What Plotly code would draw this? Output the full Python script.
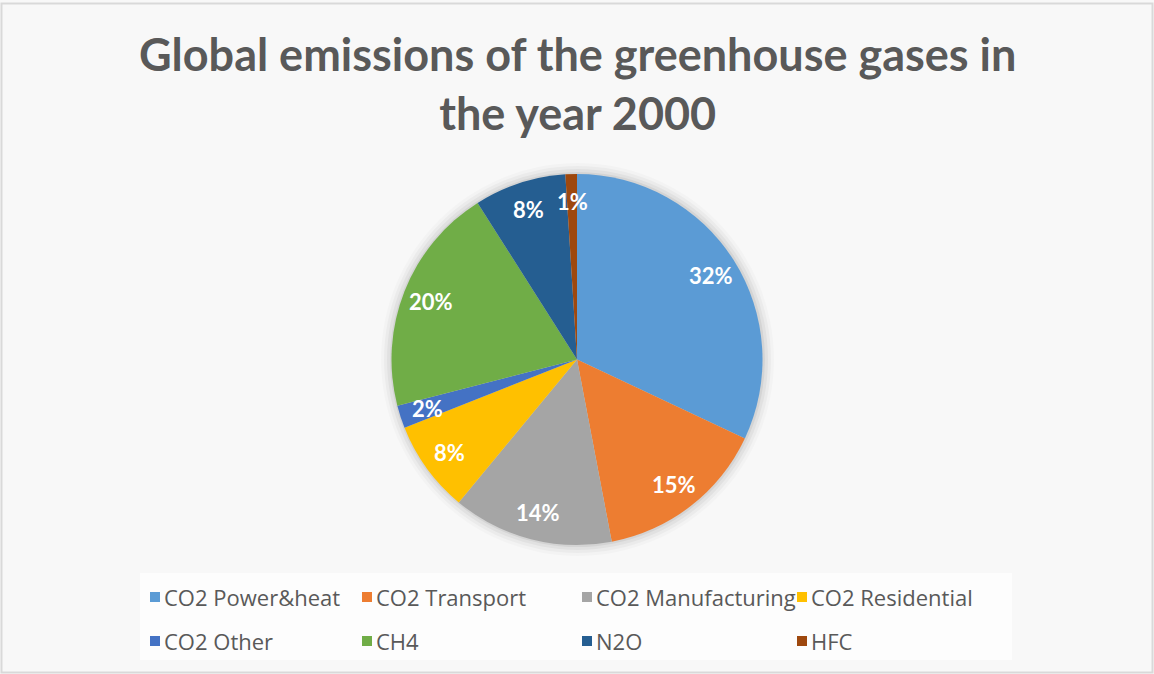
import math
import plotly.graph_objects as go

# Share of global greenhouse-gas emissions, year 2000 (percent)
sources = ["CO2 Power&heat", "CO2 Transport", "CO2 Manufacturing", "CO2 Residential",
           "CO2 Other", "CH4", "N2O", "HFC"]
shares = [32, 15, 14, 8, 2, 20, 8, 1]
colors = ["#5B9BD5", "#ED7D31", "#A5A5A5", "#FFC000",
          "#4472C4", "#70AD47", "#255E91", "#9E480E"]

title_text = "Global emissions of the greenhouse gases in<br>the year 2000"

W, H = 1154, 674
cx, cy, r = 577.5, 359.5, 185.5
pie_domain = dict(x=[0, 1], y=[(H - cy - r) / H, (H - cy + r) / H])

fig = go.Figure()
fig.add_trace(go.Pie(
    labels=sources, values=shares, sort=False,
    direction="clockwise", rotation=0,
    marker=dict(colors=colors, line=dict(width=0)),
    textinfo="none",
    hoverinfo="label+percent",
    domain=pie_domain,
    showlegend=False,
))

shapes = []
# soft shadow around the pie
for i, op in enumerate([0.05, 0.04, 0.03, 0.02]):
    d = 2 + i * 3
    shapes.append(dict(
        type="circle", xref="paper", yref="paper", layer="below",
        x0=(cx - r - d) / W, x1=(cx + r + d) / W,
        y0=(H - cy - r - d) / H, y1=(H - cy + r + d) / H,
        fillcolor=f"rgba(0,0,0,{op})", line=dict(width=0),
    ))
# legend panel
shapes.append(dict(
    type="rect", xref="paper", yref="paper", layer="below",
    x0=140 / W, x1=1012 / W, y0=1 - 660 / H, y1=1 - 573 / H,
    fillcolor="#FDFDFD", line=dict(width=0),
))
# chart frame
shapes.append(dict(
    type="rect", xref="paper", yref="paper",
    x0=1.5 / W, x1=(W - 1.5) / W, y0=1.5 / H, y1=(H - 3.5) / H,
    line=dict(color="#D9D9D9", width=2), fillcolor="rgba(0,0,0,0)",
))

annotations = [dict(
    text=title_text, xref="paper", yref="paper",
    x=0.5, y=1 - 84 / H, xanchor="center", yanchor="middle",
    showarrow=False,
    font=dict(family="Lato", size=45, color="#595959", weight="bold"),
)]

# percentage labels placed near the rim, on each slice's bisector
total = sum(shares)
cum = 0.0
rho = 0.85 * r
for v in shares:
    theta = 2 * math.pi * (cum + v / 2) / total
    cum += v
    lx = cx + rho * math.sin(theta)
    ly = cy - rho * math.cos(theta)
    annotations.append(dict(
        text=f"{round(100 * v / total)}%", xref="paper", yref="paper",
        x=lx / W, y=1 - ly / H, xanchor="center", yanchor="middle",
        showarrow=False,
        font=dict(family="Lato", size=22, color="white", weight="bold"),
    ))

# legend: 4 columns x 2 rows
col_x = [150, 362, 582, 797]
row_y = [597, 641]
for i, (name, c) in enumerate(zip(sources, colors)):
    x0 = col_x[i % 4]
    y0 = row_y[i // 4]
    shapes.append(dict(
        type="rect", xref="paper", yref="paper",
        x0=x0 / W, x1=(x0 + 10) / W,
        y0=1 - (y0 + 5) / H, y1=1 - (y0 - 5) / H,
        fillcolor=c, line=dict(width=0),
    ))
    annotations.append(dict(
        text=name, xref="paper", yref="paper",
        x=(x0 + 12) / W, y=1 - y0 / H, xanchor="left", yanchor="middle",
        showarrow=False,
        font=dict(family="Open Sans", size=22, color="#595959"),
    ))

fig.update_layout(
    width=W, height=H,
    margin=dict(l=0, r=0, t=0, b=0),
    paper_bgcolor="#F8F8F8",
    plot_bgcolor="#F8F8F8",
    showlegend=False,
    shapes=shapes,
    annotations=annotations,
)

fig.write_html("out.html")
